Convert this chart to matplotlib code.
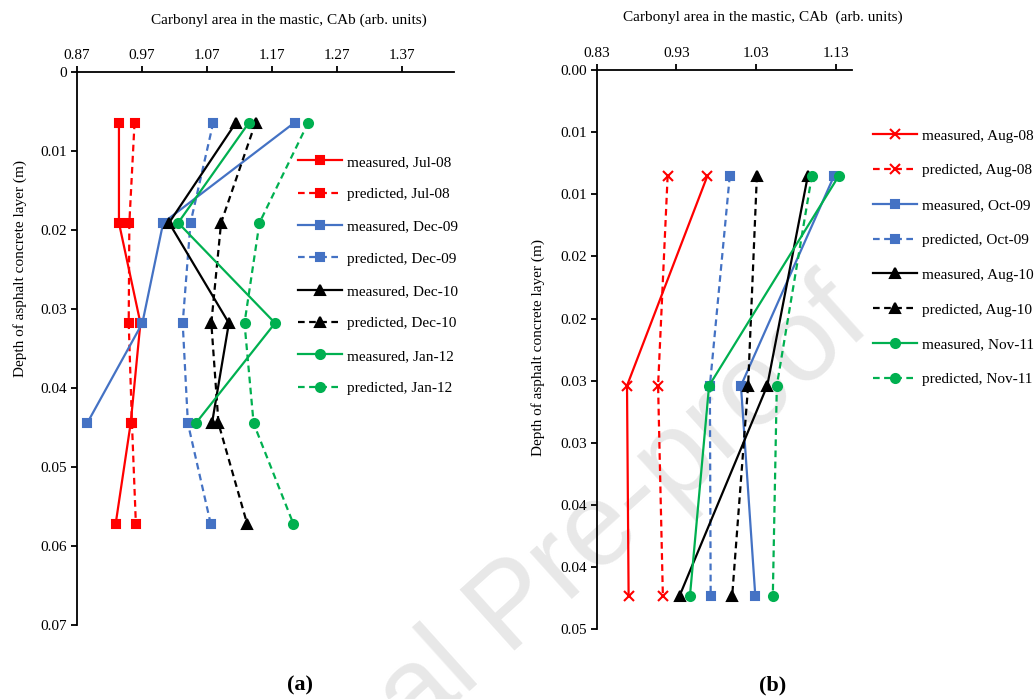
import matplotlib
matplotlib.use("Agg")
import matplotlib.pyplot as plt

plt.rcParams.update({
    "font.family": "Liberation Serif",
    "font.size": 11,
    "axes.linewidth": 1.3,
})

RED = "#FF0000"
BLUE = "#4472C4"
BLACK = "#000000"
GREEN = "#00B050"

# ---------------- datos (a) ----------------
depth_a = [0.0064, 0.0191, 0.0318, 0.0445, 0.0572]
meas_jul08 = [0.935, 0.935, 0.968, 0.953, 0.930]
pred_jul08 = [0.959, 0.951, 0.950, 0.955, 0.961]
meas_dec09 = [1.205, 1.003, 0.971, 0.886]
pred_dec09 = [1.080, 1.045, 1.033, 1.041, 1.076]
meas_dec10 = [1.115, 1.012, 1.104, 1.078]
pred_dec10 = [1.145, 1.092, 1.077, 1.088, 1.132]
meas_jan12 = [1.135, 1.026, 1.175, 1.053]
pred_jan12 = [1.226, 1.151, 1.128, 1.142, 1.203]
xticks_a = [0.87, 0.97, 1.07, 1.17, 1.27, 1.37]
yticks_a = [0, 0.01, 0.02, 0.03, 0.04, 0.05, 0.06, 0.07]
ylabels_a = ["0", "0.01", "0.02", "0.03", "0.04", "0.05", "0.06", "0.07"]

# ---------------- datos (b) ----------------
depth_b = [0.0085, 0.0254, 0.0423]
meas_aug08 = [0.969, 0.868, 0.870]
pred_aug08 = [0.919, 0.907, 0.913]
meas_oct09 = [1.128, 1.011, 1.029]
pred_oct09 = [0.997, 0.972, 0.973]
meas_aug10 = [1.095, 1.044, 0.934]
pred_aug10 = [1.031, 1.020, 1.000]
meas_nov11 = [1.134, 0.971, 0.947]
pred_nov11 = [1.100, 1.056, 1.051]
xticks_b = [0.83, 0.93, 1.03, 1.13]
yticks_b = [0, 0.005, 0.01, 0.015, 0.02, 0.025, 0.03, 0.035, 0.04, 0.045]
ylabels_b = ["0.00", "0.01", "0.01", "0.02", "0.02", "0.03", "0.03", "0.04", "0.04", "0.05"]

DASH = (0, (3, 2))


def serie(ax, vals, depth, color, marker, dashed, label, ms):
    ax.plot(vals, depth[:len(vals)], color=color, marker=marker, ms=ms,
            lw=1.6, ls=DASH if dashed else "-", label=label,
            mew=1.5, clip_on=False)


def estilo(ax, xlim, ylim, xticks, yticks, ylabels):
    ax.set_xlim(*xlim)
    ax.set_ylim(ylim[1], ylim[0])
    ax.xaxis.tick_top()
    ax.set_xticks(xticks)
    ax.set_xticklabels([f"{v:.2f}" for v in xticks])
    ax.set_yticks(yticks)
    ax.set_yticklabels(ylabels)
    ax.tick_params(direction="out", length=4, width=1.3, pad=3)
    ax.spines["right"].set_visible(False)
    ax.spines["bottom"].set_visible(False)
    ax.set_facecolor("none")
    ax.xaxis.set_label_position("top")


fig = plt.figure(figsize=(10.36, 6.99), dpi=100)

# marca de agua
fig.text(0.497, 0.128, "Journal Pre-proof", fontsize=85, family="Liberation Sans",
         color="#e8e8e8", rotation=42, ha="center", va="center",
         rotation_mode="anchor", zorder=-5)

# ---------------- panel (a) ----------------
ax = fig.add_axes([0.074, 0.1063, 0.3642, 0.7907])
serie(ax, meas_jul08, depth_a, RED, "s", False, "measured, Jul-08", 6)
serie(ax, pred_jul08, depth_a, RED, "s", True, "predicted, Jul-08", 6)
serie(ax, meas_dec09, depth_a, BLUE, "s", False, "measured, Dec-09", 6)
serie(ax, pred_dec09, depth_a, BLUE, "s", True, "predicted, Dec-09", 6)
serie(ax, meas_dec10, depth_a, BLACK, "^", False, "measured, Dec-10", 7)
serie(ax, pred_dec10, depth_a, BLACK, "^", True, "predicted, Dec-10", 7)
serie(ax, meas_jan12, depth_a, GREEN, "o", False, "measured, Jan-12", 6.5)
serie(ax, pred_jan12, depth_a, GREEN, "o", True, "predicted, Jan-12", 6.5)
estilo(ax, (0.87, 1.45), (0, 0.07), xticks_a, yticks_a, ylabels_a)
ax.set_xlabel("Carbonyl area in the mastic, CAb (arb. units)")
ax.xaxis.set_label_coords(0.563, 1.088)
ax.set_ylabel("Depth of asphalt concrete layer (m)")
ax.yaxis.set_label_coords(-0.132, 0.645)
ax.legend(loc="upper left", bbox_to_anchor=(298 / 1036, 1 - 155 / 699),
          bbox_transform=fig.transFigure, frameon=False, handlelength=2.9,
          handletextpad=0.3, labelspacing=1.22, borderpad=0, borderaxespad=0)

# ---------------- panel (b) ----------------
bx = fig.add_axes([0.576, 0.0997, 0.2461, 0.8002])
serie(bx, meas_aug08, depth_b, RED, "x", False, "measured, Aug-08", 7)
serie(bx, pred_aug08, depth_b, RED, "x", True, "predicted, Aug-08", 7)
serie(bx, meas_oct09, depth_b, BLUE, "s", False, "measured, Oct-09", 6)
serie(bx, pred_oct09, depth_b, BLUE, "s", True, "predicted, Oct-09", 6)
serie(bx, meas_aug10, depth_b, BLACK, "^", False, "measured, Aug-10", 7)
serie(bx, pred_aug10, depth_b, BLACK, "^", True, "predicted, Aug-10", 7)
serie(bx, meas_nov11, depth_b, GREEN, "o", False, "measured, Nov-11", 6.5)
serie(bx, pred_nov11, depth_b, GREEN, "o", True, "predicted, Nov-11", 6.5)
estilo(bx, (0.83, 1.15), (0, 0.045), xticks_b, yticks_b, ylabels_b)
bx.set_xlabel("Carbonyl area in the mastic, CAb  (arb. units)")
bx.xaxis.set_label_coords(0.651, 1.088)
bx.set_ylabel("Depth of asphalt concrete layer (m)")
bx.yaxis.set_label_coords(-0.203, 0.503)
bx.legend(loc="upper left", bbox_to_anchor=(873 / 1036, 1 - 129 / 699),
          bbox_transform=fig.transFigure, frameon=False, handlelength=2.9,
          handletextpad=0.3, labelspacing=1.38, borderpad=0, borderaxespad=0)

fig.text(300 / 1036, 1 - 685 / 699, "(a)", fontsize=16, fontweight="bold",
         ha="center", va="center")
fig.text(773 / 1036, 1 - 685 / 699, "(b)", fontsize=16, fontweight="bold",
         ha="center", va="center")

fig.savefig("out.png", dpi=100, facecolor="white")
